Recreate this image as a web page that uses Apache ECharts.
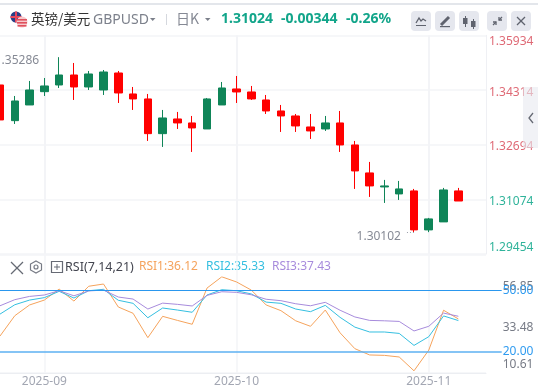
<!DOCTYPE html>
<html><head><meta charset="utf-8">
<style>html,body{margin:0;padding:0;background:#fff}#c{width:538px;height:392px}</style>
<script src="https://cdn.jsdelivr.net/npm/echarts@6/dist/echarts.min.js"></script>
</head><body><div id="c"></div>
<script>
const categories = ['2025-08-25','2025-08-27','2025-08-29','2025-09-01','2025-09-03','2025-09-05','2025-09-08','2025-09-10','2025-09-12','2025-09-15','2025-09-17','2025-09-19','2025-09-22','2025-09-24','2025-09-26','2025-09-29','2025-10-01','2025-10-03','2025-10-06','2025-10-08','2025-10-10','2025-10-13','2025-10-15','2025-10-17','2025-10-20','2025-10-22','2025-10-24','2025-10-27','2025-10-29','2025-11-01','2025-11-03','2025-11-05'];
const opens  = [1.34462,1.33405,1.33870,1.34264,1.34462,1.34758,1.34403,1.34314,1.34817,1.34196,1.34048,1.33020,1.33455,1.33337,1.33159,1.33870,1.34344,1.34255,1.34018,1.33692,1.33544,1.33218,1.33159,1.33337,1.32685,1.31856,1.31441,1.31234,1.31323,1.30168,1.30405,1.31323];
const closes = [1.33426,1.33988,1.34314,1.34433,1.34758,1.34403,1.34788,1.34847,1.34225,1.34048,1.33020,1.33485,1.33337,1.33189,1.34048,1.34373,1.34255,1.34048,1.33692,1.33544,1.33248,1.33100,1.33337,1.32685,1.31915,1.31471,1.31471,1.31382,1.30168,1.30494,1.31352,1.31024];
const lows   = [1.33277,1.33307,1.33870,1.34136,1.34373,1.34018,1.34314,1.34166,1.33929,1.33722,1.32804,1.32626,1.33159,1.32478,1.33159,1.33870,1.33929,1.34018,1.33603,1.33070,1.33070,1.32863,1.33100,1.32478,1.31382,1.31145,1.30967,1.31056,1.30102,1.30102,1.30405,1.31024];
const highs  = [1.34610,1.34136,1.34581,1.34669,1.35286,1.35114,1.34877,1.34906,1.34877,1.34403,1.34196,1.33722,1.33663,1.33544,1.34077,1.34551,1.34729,1.34433,1.34166,1.33870,1.33603,1.33603,1.33544,1.33692,1.32804,1.32182,1.31649,1.31619,1.31382,1.30523,1.31412,1.31412];
const rsi1 = [27.7,37.7,43.0,45.4,50.8,44.9,52.2,53.3,42.0,38.9,26.9,37.4,35.4,33.5,51.3,56.85,54.3,50.3,43.0,40.2,35.2,32.5,40.5,29.3,21.5,18.4,18.2,17.4,10.61,20.8,40.4,36.12];
const rsi2 = [38.5,43.1,45.4,46.6,49.7,46.4,50.0,50.7,45.3,43.8,36.7,41.5,40.5,39.4,47.9,50.5,50.0,48.4,44.4,43.8,41.0,39.7,42.8,36.9,32.1,29.7,29.7,29.0,23.1,27.4,37.6,35.33];
const rsi3 = [42.6,45.6,47.2,47.9,50.0,47.5,49.9,50.3,46.9,45.9,41.0,43.9,43.3,42.5,47.7,49.5,49.2,48.0,45.8,45.1,43.6,42.6,44.3,40.4,37.1,35.4,35.2,34.9,30.2,32.5,39.0,37.43];
const priceTicks = [1.29454,1.31074,1.32694,1.34314,1.35934];
const rsiTicks = [10.61,33.48,56.85];
const rsiLevels = [50,20];
const monthIdx = [3,16,29];
const lastPrice = 1.31024;

const FONT = '"Noto Sans","Noto Sans CJK SC",sans-serif';
const PALE = '#f3f4f7';
const UP = '#0f8558', DOWN = '#ff0000';
const STEP = 14.83;
const pts = a => a.map((v,i)=>[i,v]);
const line = (d,c)=>({type:'line',xAxisIndex:1,yAxisIndex:1,data:pts(d),showSymbol:false,symbol:'none',
  lineStyle:{color:c,width:1},itemStyle:{color:c},silent:true,animation:false,z:3,
  ...(c==='#a78bdc'?{markLine:{silent:true,symbol:'none',animation:false,precision:2,
     label:{show:true,position:'end',distance:1,color:'#2f9bf0',fontSize:12,fontFamily:FONT,formatter:p=>Number(p.value).toFixed(2)},
     lineStyle:{color:'#2a97ee',width:1,type:'solid'},
     data:rsiLevels.map(v=>({yAxis:v,lineStyle:{width:v===20?1.6:1,color:v===20?'#5cb0f2':'#2a97ee'}}))}}:{})});

const box=(x)=>({type:'rect',shape:{x,y:11,width:20,height:20,r:4},style:{fill:'#e5e7ee'}});
const G='#5f636e';
const pl=(points,w,c)=>({type:'polyline',shape:{points},style:{fill:'none',stroke:c||G,lineWidth:w||1.3}});
const rect=(x,y,w,h,c)=>({type:'rect',shape:{x,y,width:w,height:h},style:{fill:c||G}});
const txt=(x,y,t,s,c,w,ff)=>({type:'text',x,y,style:{text:t,fontSize:s,fill:c,fontWeight:w||'normal',fontFamily:ff||FONT,textVerticalAlign:'middle'}});

const graphic=[
 rect(0,3,538,2,'#e3e6eb'),
 {type:'circle',shape:{cx:16,cy:17,r:5.5},style:{fill:'#2a3f86'}},
 rect(10.5,16,11,2,'#e8455a'),rect(15,11.5,2,11,'#e8455a'),
 {type:'circle',shape:{cx:22,cy:22,r:5.5},style:{fill:'#f6c9cc'}},
 rect(17,19,10,1.6,'#e0505c'),rect(17,22,10,1.6,'#e0505c'),rect(17.5,25,9,1.6,'#e0505c'),
 txt(31,19,'英镑/美元',13.5,'#333333','normal','"Noto Sans CJK SC",sans-serif'),
 txt(93,20,'GBPUSD',14,'#7c808b'),
 {type:'polygon',shape:{points:[[150,18],[155.5,18],[152.7,21]]},style:{fill:'#7c808b'}},
 rect(166,14,1,11,'#d5d8de'),
 txt(176,19,'日K',14,'#858994','normal','"Noto Sans CJK SC",sans-serif'),
 {type:'polygon',shape:{points:[[205,18],[210.5,18],[207.7,21]]},style:{fill:'#7c808b'}},
 txt(221,19,lastPrice.toFixed(5),14,'#12a58a','bold'),
 txt(281,19,'-0.00344',14,'#12a58a','bold'),
 txt(346,19,'-0.26%',14,'#12a58a','bold'),
 box(411),box(435),box(459),box(487),box(511),
 pl([[416,23],[419,18],[421,21],[423,19],[426,21]]),rect(416,25,10,1),
 pl([[441,25],[449,17]],3),rect(440,26,10,1.2),
 rect(465,16,1,11),rect(463,18,4.5,6),rect(473,19,1,10),rect(471,21,4.5,6),
 pl([[493,25],[496,22]]),pl([[496,25],[496,22],[493,22]]),pl([[499,20],[502,17]]),pl([[499,17],[499,20],[502,20]]),
 pl([[517,17],[525,25]]),pl([[525,17],[517,25]]),
 {type:'rect',z:50,shape:{x:523,y:87,width:15,height:61},style:{fill:'rgba(232,233,240,0.6)'}},
 {type:'polyline',z:51,shape:{points:[[533,113],[529,118],[533,123]]},style:{fill:'none',stroke:'#666a74',lineWidth:1.3}},
 pl([[11,262],[23,274]],1.2,'#666a74'),pl([[23,262],[11,274]],1.2,'#666a74'),
 {type:'polygon',shape:{points:[[36,261],[41.5,264],[41.5,270],[36,273],[30.5,270],[30.5,264]]},style:{fill:'none',stroke:'#777b85',lineWidth:1.2}},
 {type:'circle',shape:{cx:36,cy:267,r:2},style:{fill:'none',stroke:'#777b85',lineWidth:1.2}},
 {type:'rect',shape:{x:51.5,y:261.5,width:11,height:11},style:{fill:'none',stroke:'#666a74',lineWidth:1.2}},
 rect(54,266.5,6,1,'#666a74'),rect(56.5,264,1,6,'#666a74'),
 txt(65,267,'RSI(7,14,21)',12.5,'#444650'),
 txt(139,267,'RSI1:'+rsi1[rsi1.length-1].toFixed(2),12,'#f5a35c'),
 txt(206,267,'RSI2:'+rsi2[rsi2.length-1].toFixed(2),12,'#35bfe0'),
 txt(272,267,'RSI3:'+rsi3[rsi3.length-1].toFixed(2),12,'#a78bdc')
];

const lab=(color,p)=>({color,fontSize:12,fontFamily:FONT,padding:[p,0,0,0]});
const xBase={type:'value',min:0,splitNumber:1,axisPointer:{show:false}};
const option={
 animation:false,
 backgroundColor:'#fff',
 graphic,
 grid:[
  {left:-1.5,top:35.3,width:487.5,height:218.7,containLabel:false},
  {left:-1.5,top:276.8,width:503.2,height:94,containLabel:false},
  {left:-1.5,top:255,width:487.5,height:118,containLabel:false}
 ],
 xAxis:[
  {...xBase,gridIndex:0,max:487.5/STEP,axisLine:{show:false},axisTick:{show:false,customValues:monthIdx},axisLabel:{show:false,customValues:monthIdx},
   splitLine:{show:true,lineStyle:{color:PALE,width:2}}},
  {...xBase,gridIndex:1,max:503.2/STEP,axisLine:{show:false},axisTick:{show:false},axisLabel:{show:false},splitLine:{show:false}},
  {...xBase,gridIndex:2,max:487.5/STEP,position:'bottom',axisLine:{show:true,onZero:false,lineStyle:{color:'#eceef2',width:1}},axisTick:{show:false,customValues:monthIdx},
   axisLabel:{show:true,customValues:monthIdx,margin:3,color:'#a3a7b3',fontSize:12,fontFamily:FONT,hideOverlap:false,showMinLabel:true,showMaxLabel:true,formatter:v=>categories[v].slice(0,7)},
   splitLine:{show:true,lineStyle:{color:PALE,width:1.5}}}
 ],
 yAxis:[
  {type:'value',gridIndex:0,position:'right',min:priceTicks[0],max:priceTicks[4],
   axisLine:{show:true,onZero:false,lineStyle:{color:'#eff0f4'}},axisTick:{show:false,customValues:priceTicks},
   axisLabel:{inside:false,margin:3,customValues:priceTicks,fontSize:12,fontFamily:FONT,showMinLabel:true,showMaxLabel:true,
     verticalAlignMinLabel:'bottom',verticalAlignMaxLabel:'top',
     rich:{end:lab('#df6a76',0),endg:lab('#2fb39a',0),mid:lab('#df6a76',4.5),midg:lab('#2fb39a',4.5)},
     formatter:v=>{const red=v>lastPrice+0.001, edge=v===priceTicks[0]||v===priceTicks[4];
       return '{'+(edge?'end':'mid')+(red?'':'g')+'|'+v.toFixed(5)+'}';}},
   splitLine:{show:true,lineStyle:{color:PALE,width:1.5}}},
  {type:'value',gridIndex:1,position:'right',min:rsiTicks[0],max:rsiTicks[2],
   axisLine:{show:false},axisTick:{show:false,customValues:rsiTicks},splitLine:{show:false},
   axisLabel:{margin:1,customValues:rsiTicks,fontSize:12,fontFamily:FONT,showMinLabel:true,showMaxLabel:true,
     verticalAlignMinLabel:'bottom',verticalAlignMaxLabel:'top',
     rich:{lo:lab('#777b86',0),midr:lab('#777b86',6),hi:lab('#777b86',4)},
     formatter:v=>'{'+(v===rsiTicks[0]?'lo':v===rsiTicks[1]?'midr':'hi')+'|'+v.toFixed(2)+'}'}},
  {type:'value',gridIndex:2,position:'right',min:0,max:1,axisLine:{show:false},axisTick:{show:false},axisLabel:{show:false},
   splitLine:{show:true,lineStyle:{color:PALE,width:1.5}},interval:1}
 ],
 series:[
  {type:'candlestick',xAxisIndex:0,yAxisIndex:0,barWidth:8,clip:true,silent:true,
   data:categories.map((_,i)=>[i,opens[i],closes[i],lows[i],highs[i]]),
   itemStyle:{color:UP,color0:DOWN,borderColor:UP,borderColor0:DOWN,borderWidth:1},
   markPoint:{silent:true,symbol:'circle',symbolSize:0,animation:false,
    data:[
     {coord:[4,highs[4]],value:highs[4],label:{show:true,position:'left',distance:0,offset:[-20,3],color:'#868a95',fontSize:12,fontFamily:FONT,formatter:p=>p.value.toFixed(5)}},
     {coord:[28,lows[28]],value:lows[28],label:{show:true,position:'left',distance:0,offset:[-13,4],color:'#868a95',fontSize:12,fontFamily:FONT,formatter:p=>p.value.toFixed(5)}}
    ]},
   markLine:{silent:true,symbol:'none',animation:false,label:{show:false},lineStyle:{color:'#9a9ea8',type:[1,2],width:1},
    data:[[{coord:[28,lows[28]]},{coord:[27.4,lows[28]]}]]}},
  line(rsi1,'#f5a35c'),line(rsi2,'#35bfe0'),line(rsi3,'#a78bdc')
 ]
};
echarts.init(document.getElementById('c'),null,{renderer:'canvas'}).setOption(option);
</script></body></html>
